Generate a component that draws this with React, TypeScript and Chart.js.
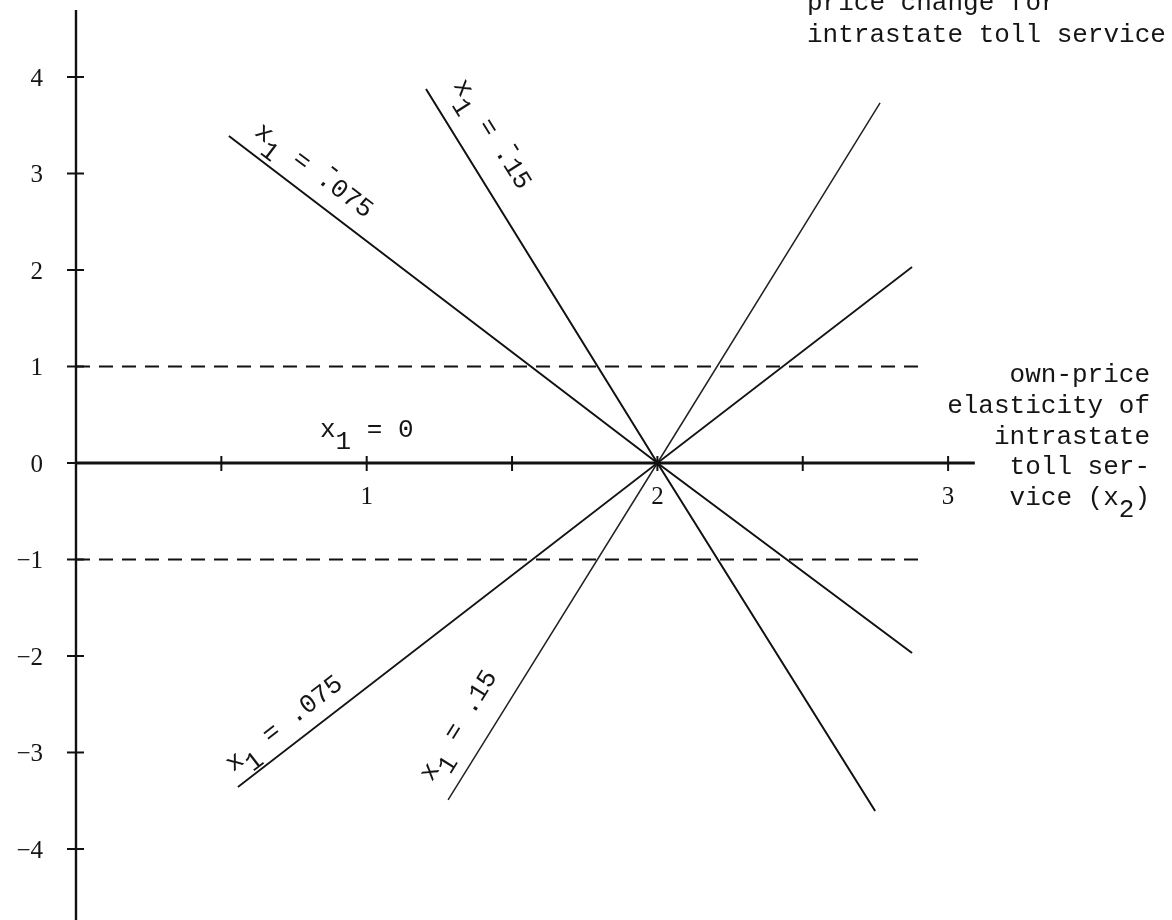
import React, { useEffect, useRef } from "react";
import { Chart, registerables } from "chart.js";

Chart.register(...registerables);

// ---- scale ranges ----
const X_RANGE = [-0.2614, 3.7702];
const Y_RANGE = [-4.736, 4.798];

// ---- ticks ----
const Y_TICKS = [4, 3, 2, 1, 0, -1, -2, -3, -4];
const Y_TICK_LABELS = ["4", "3", "2", "1", "0", "\u22121", "\u22122", "\u22123", "\u22124"];
const X_TICKS = [0.5, 1, 1.5, 2, 2.5, 3];
const X_TICK_LABELS = ["", "1", "", "2", "", "3"];

// ---- axes and reference lines ----
const AXIS_X_END = 3.092;
const AXIS_Y_TOP = 4.694;
const AXIS_Y_BOTTOM = -4.8;
const DASH_LEVELS = [1, -1];
const DASH_START = 0;
const DASH_END = 2.9;

// ---- x1 lines (x2, y) ----
const LINE_NEG075_X = [0.526, 2, 2.876];
const LINE_NEG075_Y = [3.389, 0, -1.969];
const LINE_NEG15_X = [1.204, 2, 2.749];
const LINE_NEG15_Y = [3.876, 0, -3.606];
const LINE_POS075_X = [0.557, 2, 2.876];
const LINE_POS075_Y = [-3.358, 0, 2.031];
const LINE_POS15_X = [1.28, 2, 2.766];
const LINE_POS15_Y = [-3.492, 0, 3.731];

// ---- line labels ----
const LABEL_TEXTS = ["x\u2081 = -.075", "x\u2081 = -.15", "x\u2081 = .075", "x\u2081 = .15", "x\u2081 = 0"];
const LABEL_X = [0.611, 1.297, 0.54, 1.224, 0.839];
const LABEL_Y = [3.41, 3.916, -3.205, -3.309, 0.269];
const LABEL_LINE = [0, 1, 2, 3, -1];

// ---- annotation texts ----
const TOP_NOTE_LINES = ["price change for", "intrastate toll service"];
const AXIS_TITLE_LINES = ["own-price", "elasticity of", "intrastate", "toll ser-", "vice (x\u2082)"];

const MONO = "26px 'Liberation Mono', 'DejaVu Sans Mono', monospace";
const SERIF = "25px 'Liberation Serif', 'DejaVu Serif', serif";

function pts(xs: number[], ys: number[]) {
  return xs.map((x, i) => ({ x, y: ys[i] }));
}

function countCells(text: string) {
  let n = 0;
  for (let i = 0; i < text.length; i++) {
    const ch = text[i];
    if (ch === "-" && text[i + 1] === ".") continue;
    n++;
  }
  return n;
}

function drawMono(ctx: CanvasRenderingContext2D, text: string, pitch: number) {
  let cell = 0;
  for (let i = 0; i < text.length; i++) {
    const ch = text[i];
    if (ch === "-" && text[i + 1] === ".") {
      ctx.fillText("-", cell * pitch, -14);
      continue;
    }
    if (ch === "\u2081" || ch === "\u2082") {
      ctx.fillText(ch === "\u2081" ? "1" : "2", cell * pitch, 12);
    } else if (ch !== " ") {
      ctx.fillText(ch, cell * pitch, 0);
    }
    cell++;
  }
}

const lineSets = [
  [LINE_NEG075_X, LINE_NEG075_Y],
  [LINE_NEG15_X, LINE_NEG15_Y],
  [LINE_POS075_X, LINE_POS075_Y],
  [LINE_POS15_X, LINE_POS15_Y],
];

const overlay = {
  id: "overlay",
  afterDatasetsDraw(chart: any) {
    const { ctx, scales } = chart;
    const xs = scales.x;
    const ys = scales.y;
    const px = (v: number) => xs.getPixelForValue(v);
    const py = (v: number) => ys.getPixelForValue(v);
    ctx.save();
    ctx.strokeStyle = "#111";
    ctx.lineWidth = 2;
    Y_TICKS.forEach((v) => {
      ctx.beginPath();
      ctx.moveTo(px(0) - 9, py(v));
      ctx.lineTo(px(0) + 8, py(v));
      ctx.stroke();
    });
    X_TICKS.forEach((v) => {
      ctx.beginPath();
      ctx.moveTo(px(v), py(0) - 7);
      ctx.lineTo(px(v), py(0) + 8);
      ctx.stroke();
    });

    ctx.fillStyle = "#151515";
    ctx.font = SERIF;
    ctx.textAlign = "right";
    ctx.textBaseline = "middle";
    Y_TICKS.forEach((v, i) => ctx.fillText(Y_TICK_LABELS[i], px(0) - 33, py(v) + 2));
    ctx.textAlign = "center";
    X_TICKS.forEach((v, i) => {
      if (X_TICK_LABELS[i]) ctx.fillText(X_TICK_LABELS[i], px(v), py(0) + 34);
    });

    ctx.font = MONO;
    ctx.textAlign = "left";
    ctx.textBaseline = "alphabetic";
    const pitch = ctx.measureText("x").width;

    LABEL_TEXTS.forEach((t, i) => {
      let ang = 0;
      const li = LABEL_LINE[i];
      if (li >= 0) {
        const [lx, ly] = lineSets[li];
        const n = lx.length - 1;
        ang = Math.atan2(py(ly[n]) - py(ly[0]), px(lx[n]) - px(lx[0]));
      }
      ctx.save();
      ctx.translate(px(LABEL_X[i]), py(LABEL_Y[i]));
      ctx.rotate(ang);
      drawMono(ctx, t, pitch);
      ctx.restore();
    });

    const area = chart.chartArea;
    TOP_NOTE_LINES.forEach((t, i) => {
      ctx.save();
      ctx.translate(area.left + 807, area.top + 10 + i * 32);
      drawMono(ctx, t, pitch);
      ctx.restore();
    });
    AXIS_TITLE_LINES.forEach((t, i) => {
      const w = countCells(t) * pitch;
      ctx.save();
      ctx.translate(area.left + 1150 - w, area.top + 382 + i * 30.8);
      drawMono(ctx, t, pitch);
      ctx.restore();
    });
    ctx.restore();
  },
};

export default function App() {
  const ref = useRef<HTMLCanvasElement | null>(null);
  useEffect(() => {
    if (!ref.current) return;
    const mk = (data: any, w: number, color = "#111", dash: number[] = []) => ({
      data,
      showLine: true,
      borderColor: color,
      borderWidth: w,
      borderDash: dash,
      pointRadius: 0,
      fill: false,
      tension: 0,
    });
    const datasets: any[] = [
      mk(pts([0, AXIS_X_END], [0, 0]), 2.8),
      mk(pts([0, 0], [AXIS_Y_TOP, AXIS_Y_BOTTOM]), 2.4),
      ...DASH_LEVELS.map((lv) => mk(pts([DASH_START, DASH_END], [lv, lv]), 1.8, "#111", [14, 9])),
      mk(pts(LINE_NEG075_X, LINE_NEG075_Y), 2, "#111"),
      mk(pts(LINE_NEG15_X, LINE_NEG15_Y), 2, "#111"),
      mk(pts(LINE_POS075_X, LINE_POS075_Y), 1.8, "#151515"),
      mk(pts(LINE_POS15_X, LINE_POS15_Y), 1.5, "#222"),
    ];
    const chart = new Chart(ref.current, {
      type: "scatter",
      data: { datasets },
      options: {
        animation: false,
        responsive: false,
        maintainAspectRatio: false,
        layout: { padding: 0 },
        plugins: { legend: { display: false }, tooltip: { enabled: false } },
        scales: {
          x: { type: "linear", display: false, min: X_RANGE[0], max: X_RANGE[1] },
          y: { type: "linear", display: false, min: Y_RANGE[0], max: Y_RANGE[1] },
        },
      },
      plugins: [overlay],
    });
    return () => chart.destroy();
  }, []);
  return (
    <div style={{ position: "absolute", left: 0, top: 0, width: 1172, height: 920, background: "#fff" }}>
      <canvas ref={ref} width={1172} height={920} style={{ display: "block" }} />
    </div>
  );
}
